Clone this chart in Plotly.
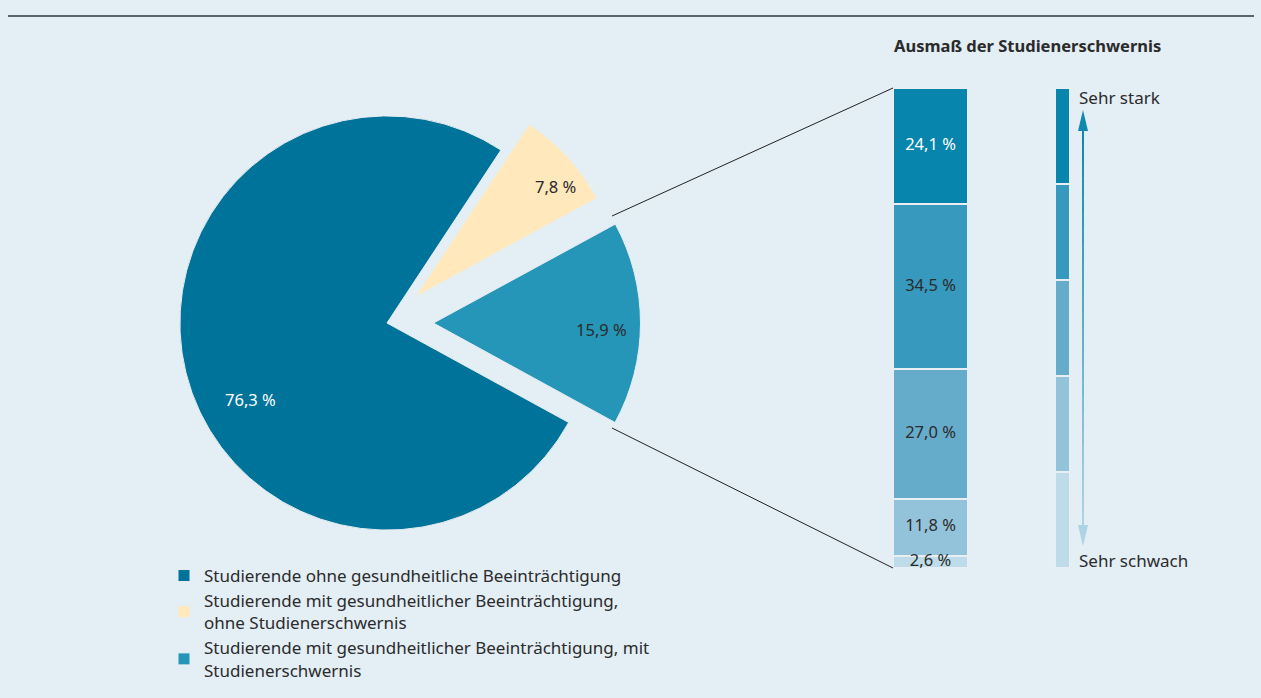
import plotly.graph_objects as go

# ---------------- data ----------------
pie_labels = [
    "Studierende ohne gesundheitliche Beeinträchtigung",
    "Studierende mit gesundheitlicher Beeinträchtigung,<br>ohne Studienerschwernis",
    "Studierende mit gesundheitlicher Beeinträchtigung, mit<br>Studienerschwernis",
]
pie_values = [76.3, 7.8, 15.9]
pie_colors = ["#00739a", "#fee8bc", "#2596b8"]
pie_pull = [0, 0.185, 0.224]

severity_levels = ["Sehr stark", "stark", "mittel", "schwach", "Sehr schwach"]
severity_values = [24.1, 34.5, 27.0, 11.8, 2.6]
severity_colors = ["#0885ad", "#3699bd", "#65abca", "#93c3da", "#bddbe8"]
severity_text_colors = ["white", "#2b2b2b", "#2b2b2b", "#2b2b2b", "#2b2b2b"]
scale_steps = [1, 1, 1, 1, 1]

title_text = "Ausmaß der Studienerschwernis"
scale_top_label = "Sehr stark"
scale_bottom_label = "Sehr schwach"

# ---------------- helpers ----------------
W, H = 1261, 698
BG = "#e3eef5"
FONT = "Noto Sans"
TXT = "#2b2b2b"


def px(x):
    return x / W


def py(y):
    return 1 - y / H


def fmt(v):
    return f"{v:.1f}".replace(".", ",") + " %"


fig = go.Figure()

# ---------------- pie ----------------
fig.add_trace(go.Pie(
    labels=pie_labels,
    values=pie_values,
    sort=False,
    direction="clockwise",
    rotation=118.7,
    pull=pie_pull,
    marker=dict(colors=pie_colors, line=dict(color="#e8eef2", width=1)),
    textinfo="none",
    hoverinfo="label+percent",
    domain=dict(x=[px(133.5), px(640.5)], y=[py(576.5), py(69.5)]),
    showlegend=True,
))

# ---------------- stacked severity bar ----------------
for lvl, val, col in reversed(list(zip(severity_levels, severity_values, severity_colors))):
    fig.add_trace(go.Bar(
        x=[0], y=[val], name=lvl,
        marker=dict(color=col, line=dict(color="#e9eef2", width=2)),
        xaxis="x2", yaxis="y2", showlegend=False, width=1,
        hoverinfo="y",
    ))

# labels at centre of each segment
mids = []
acc = 0
for val in reversed(severity_values):
    mids.append(acc + val / 2)
    acc += val
mids = list(reversed(mids))
fig.add_trace(go.Scatter(
    x=[0] * len(severity_values), y=mids,
    text=[fmt(v) for v in severity_values],
    mode="text",
    textfont=dict(family=FONT, size=16.5, color=severity_text_colors),
    xaxis="x2", yaxis="y2", showlegend=False, hoverinfo="skip",
))

# ---------------- scale bar ----------------
for step, col in reversed(list(zip(scale_steps, severity_colors))):
    fig.add_trace(go.Bar(
        x=[0], y=[step],
        marker=dict(color=col, line=dict(color="#e9eef2", width=2)),
        xaxis="x3", yaxis="y3", showlegend=False, width=1, hoverinfo="skip",
    ))

# ---------------- shapes ----------------
shapes = []
# top rule
shapes.append(dict(type="line", xref="paper", yref="paper",
                   x0=px(8), x1=px(1254), y0=py(16), y1=py(16),
                   line=dict(color="#5c636b", width=2)))
# connector lines
shapes.append(dict(type="line", xref="paper", yref="paper",
                   x0=px(612), y0=py(216), x1=px(893), y1=py(88),
                   line=dict(color="#222222", width=1)))
shapes.append(dict(type="line", xref="paper", yref="paper",
                   x0=px(612), y0=py(428), x1=px(893), y1=py(568),
                   line=dict(color="#222222", width=1)))

# gradient double arrow
ax = 1083
y_top, y_bot = 128, 530
n = 24
c0 = (0x12, 0x88, 0xb0)
c1 = (0xad, 0xd4, 0xe5)
for i in range(n):
    t = i / (n - 1)
    c = tuple(round(c0[k] + (c1[k] - c0[k]) * t) for k in range(3))
    ya = y_top + (y_bot - y_top) * i / n
    yb = y_top + (y_bot - y_top) * (i + 1) / n + 0.6
    shapes.append(dict(type="line", xref="paper", yref="paper",
                       x0=px(ax), x1=px(ax), y0=py(ya), y1=py(yb),
                       line=dict(color="rgb(%d,%d,%d)" % c, width=2)))
# arrowheads
shapes.append(dict(type="path", xref="paper", yref="paper",
                   path=f"M {px(ax)} {py(110)} L {px(ax-5)} {py(131)} L {px(ax+5)} {py(131)} Z",
                   fillcolor="rgb(18,136,176)", line=dict(width=0)))
shapes.append(dict(type="path", xref="paper", yref="paper",
                   path=f"M {px(ax)} {py(546)} L {px(ax-5)} {py(525)} L {px(ax+5)} {py(525)} Z",
                   fillcolor="rgb(173,212,229)", line=dict(width=0)))

# ---------------- annotations ----------------
ann = []
ann.append(dict(text=f"<b>{title_text}</b>", x=px(892), y=py(46), xref="paper", yref="paper",
                xanchor="left", yanchor="middle", showarrow=False,
                font=dict(family=FONT, size=16.5, color=TXT)))
ann.append(dict(text=scale_top_label, x=px(1077), y=py(97), xref="paper", yref="paper",
                xanchor="left", yanchor="middle", showarrow=False,
                font=dict(family=FONT, size=17, color=TXT)))
ann.append(dict(text=scale_bottom_label, x=px(1077), y=py(560), xref="paper", yref="paper",
                xanchor="left", yanchor="middle", showarrow=False,
                font=dict(family=FONT, size=17, color=TXT)))
pie_label_pos = [(251, 399, "white"), (555, 186, TXT), (601, 329, TXT)]
for v, (lx, ly, lc) in zip(pie_values, pie_label_pos):
    ann.append(dict(text=fmt(v), x=px(lx), y=py(ly), xref="paper", yref="paper",
                    xanchor="center", yanchor="middle", showarrow=False,
                    font=dict(family=FONT, size=16.5, color=lc)))

fig.update_layout(
    width=W, height=H,
    margin=dict(l=0, r=0, t=0, b=0),
    paper_bgcolor=BG, plot_bgcolor="rgba(0,0,0,0)",
    font=dict(family=FONT, color=TXT),
    barmode="stack", bargap=0,
    xaxis2=dict(domain=[px(893), px(968)], range=[-0.5, 0.5], visible=False, anchor="y2"),
    yaxis2=dict(domain=[py(568), py(88)], range=[0, 100], visible=False, anchor="x2"),
    xaxis3=dict(domain=[px(1055), px(1070)], range=[-0.5, 0.5], visible=False, anchor="y3"),
    yaxis3=dict(domain=[py(568), py(88)], range=[0, sum(scale_steps)], visible=False, anchor="x3"),
    xaxis=dict(visible=False), yaxis=dict(visible=False),
    shapes=shapes,
    annotations=ann,
    legend=dict(x=px(164), y=py(558), xanchor="left", yanchor="top",
                traceorder="normal",
                bgcolor="rgba(0,0,0,0)", font=dict(family=FONT, size=17, color=TXT),
                itemclick=False, itemdoubleclick=False, tracegroupgap=0),
    showlegend=True,
)

fig.write_html(
    "out.html",
    config={"displayModeBar": False},
    post_script="document.body.style.margin='0';document.body.style.background='" + BG + "';",
)
